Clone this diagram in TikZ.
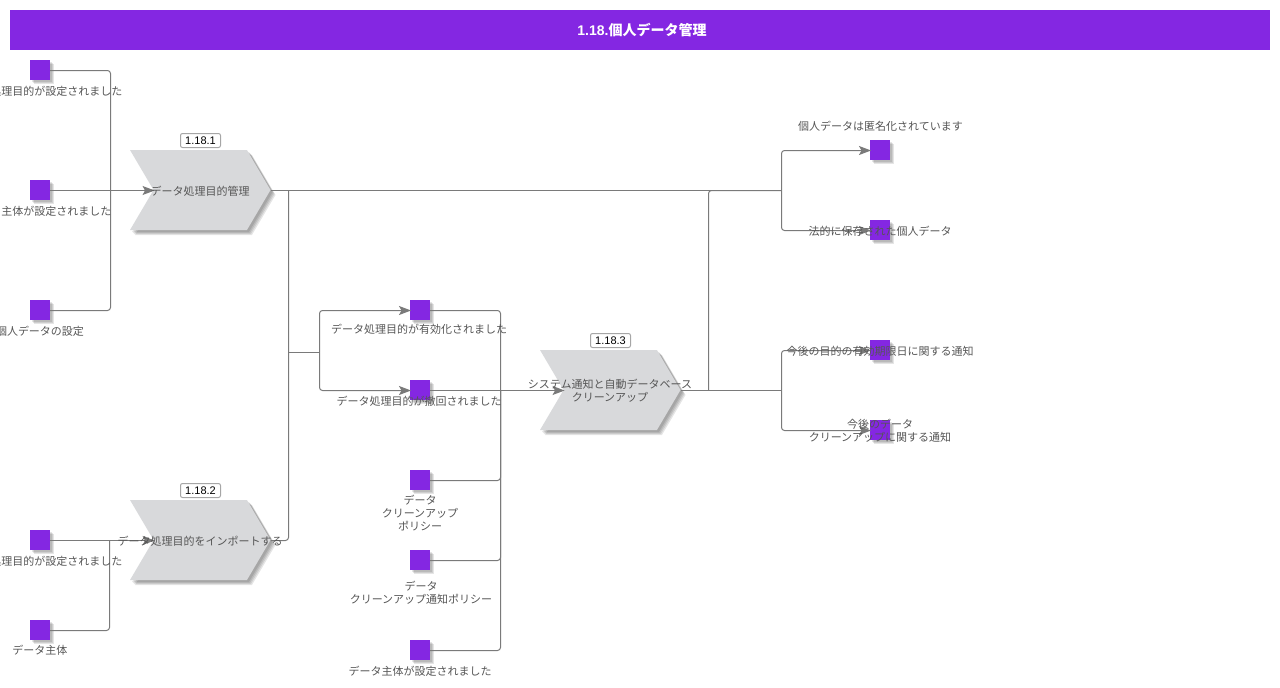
\documentclass[tikz,border=0pt]{standalone}
\usepackage{fontspec}
\setmainfont{Noto Sans CJK JP}
\newfontfamily\tagfont{Liberation Sans}
\usetikzlibrary{arrows.meta}
\usetikzlibrary{shadows}
\usetikzlibrary{shapes.symbols}
\definecolor{evtpurple}{HTML}{8427E2}
\definecolor{stepgray}{HTML}{D8D9DB}
\definecolor{linegray}{HTML}{7A7A7A}
\definecolor{textgray}{HTML}{555555}
\tikzset{
	softshadow/.style={drop shadow={shadow xshift=#1pt,shadow yshift=-#1pt,fill=black,opacity=0.1}},
	evt/.style={fill=evtpurple,minimum size=20pt,inner sep=0pt,outer sep=0pt,softshadow=1.5,softshadow=2.5,softshadow=3.5},
	stepshape/.style={shape=signal,signal to=east,signal from=west,signal pointer angle=119,fill=stepgray,minimum width=140.5pt,minimum height=80pt,inner sep=0pt,outer sep=0pt,softshadow=2,softshadow=3,softshadow=4,softshadow=5},
	txt/.style={text=textgray,font=\fontsize{11pt}{13pt}\selectfont,align=center,inner sep=0pt},
	tagbox/.style={draw=gray!70,line width=1pt,fill=white,rounded corners=2pt,minimum width=40pt,minimum height=14pt,inner sep=0pt,outer sep=0pt,font=\tagfont\fontsize{11pt}{13pt}\selectfont},
	conn/.style={draw=linegray,line width=1pt,rounded corners=3pt},
	connarrow/.style={conn,shorten >=-1pt,-{Stealth[length=12pt,width=9pt,inset=2.5pt]}},
}

\begin{document}
\begin{tikzpicture}[x=1pt,y=-1pt]
		\useasboundingbox (0,0) rectangle (1280,688);
		
		% title
		\node[fill=evtpurple,minimum width=1260pt,minimum height=40pt,inner sep=0pt,text=white,font=\fontsize{14pt}{16pt}\selectfont\bfseries] (title) at (640,30) {};
		\node[text=white,inner sep=0pt,font=\fontsize{14pt}{16pt}\selectfont\bfseries] (titleText) at (642,30.5) {{\tagfont 1.18.}個人データ管理};
		
		% steps
		\node[stepshape] (stepA) at (200.25,190) {};
		\node[stepshape] (stepB) at (200.25,540) {};
		\node[stepshape] (stepC) at (610.25,390) {};
		\node[tagbox] (tagA) at (200.5,140.5) {1.18.1};
		\node[tagbox] (tagB) at (200.5,490.5) {1.18.2};
		\node[tagbox] (tagC) at (610.5,340.5) {1.18.3};
		
		% events
		\node[evt] (evtA) at (40,70) {};
		\node[evt] (evtB) at (40,190) {};
		\node[evt] (evtC) at (40,310) {};
		\node[evt] (evtD) at (40,540) {};
		\node[evt] (evtE) at (40,630) {};
		\node[evt] (evtF) at (420,310) {};
		\node[evt] (evtG) at (420,390) {};
		\node[evt] (evtH) at (420,480) {};
		\node[evt] (evtI) at (420,560) {};
		\node[evt] (evtJ) at (420,650) {};
		\node[evt] (evtK) at (880,150) {};
		\node[evt] (evtL) at (880,230) {};
		\node[evt] (evtM) at (880,350) {};
		\node[evt] (evtN) at (880,430) {};
		
		% junctions
		\coordinate (joinA) at (110.5,190.5);
		\coordinate (joinB) at (109.5,540.5);
		\coordinate (joinC) at (288.5,190.5);
		\coordinate (joinD) at (288.5,352.5);
		\coordinate (joinE) at (319.5,352.5);
		\coordinate (joinF) at (500.5,390.5);
		\coordinate (joinG) at (708.5,390.5);
		\coordinate (joinH) at (708.5,190.5);
		\coordinate (joinI) at (781.5,190.5);
		\coordinate (joinJ) at (781.5,390.5);
		
		% connectors
		\draw[conn] ([yshift=-.5pt]evtA.east) -| (joinA);
		\draw[conn] ([yshift=-.5pt]evtC.east) -| (joinA);
		\draw[connarrow] ([yshift=-.5pt]evtB.east) -- ([yshift=-.5pt]stepA.west);
		\draw[connarrow] ([yshift=-.5pt]evtD.east) -- ([yshift=-.5pt]stepB.west);
		\draw[conn] ([yshift=-.5pt]evtE.east) -| (joinB);
		
		\draw[conn] ([yshift=-.5pt]stepB.east) -| (joinC);
		\draw[conn] (joinD) -- (joinE);
		\draw[connarrow] (joinE) |- ([yshift=-.5pt]evtF.west);
		\draw[connarrow] (joinE) |- ([yshift=-.5pt]evtG.west);
		
		\draw[conn] ([yshift=-.5pt]evtF.east) -| (joinF);
		\draw[conn] ([yshift=-.5pt]evtH.east) -| (joinF);
		\draw[conn] ([yshift=-.5pt]evtI.east) -| (joinF);
		\draw[conn] ([yshift=-.5pt]evtJ.east) -| (joinF);
		\draw[connarrow] ([yshift=-.5pt]evtG.east) -- ([yshift=-.5pt]stepC.west);
		
		\draw[conn] ([yshift=-.5pt]stepA.east) -- (joinI);
		\draw[conn] ([yshift=-.5pt]stepC.east) -- (joinJ);
		\draw[conn] (joinG) |- (joinI);
		\draw[connarrow] (joinI) |- ([yshift=-.5pt]evtK.west);
		\draw[connarrow] (joinI) |- ([yshift=-.5pt]evtL.west);
		\draw[connarrow] (joinJ) |- ([yshift=-.5pt]evtM.west);
		\draw[connarrow] (joinJ) |- ([yshift=-.5pt]evtN.west);
		
		% labels
		\node[txt] (txtA) at (40,91) {データ処理目的が設定されました};
		\node[txt] (txtB) at (40,211) {データ主体が設定されました};
		\node[txt] (txtC) at (40,331) {個人データの設定};
		\node[txt] (txtD) at (40,561) {データ処理目的が設定されました};
		\node[txt] (txtE) at (40,650.5) {データ主体};
		\node[txt] (txtF) at (419,329) {データ処理目的が有効化されました};
		\node[txt] (txtG) at (419,401) {データ処理目的が撤回されました};
		\node[txt] (txtH) at (420,513.5) {データ\\クリーンアップ\\ポリシー};
		\node[txt] (txtI) at (421,593) {データ\\クリーンアップ通知ポリシー};
		\node[txt] (txtJ) at (420,671) {データ主体が設定されました};
		\node[txt] (txtK) at (880.5,126) {個人データは匿名化されています};
		\node[txt] (txtL) at (880,231) {法的に保存された個人データ};
		\node[txt] (txtM) at (880,351) {今後の目的の有効期限日に関する通知};
		\node[txt] (txtN) at (880,431) {今後のデータ\\クリーンアップに関する通知};
		\node[txt] (txtStepA) at (200,191) {データ処理目的管理};
		\node[txt] (txtStepB) at (200,541) {データ処理目的をインポートする};
		\node[txt] (txtStepC) at (610,390.5) {システム通知と自動データベース\\クリーンアップ};
		
\end{tikzpicture}
\end{document}
